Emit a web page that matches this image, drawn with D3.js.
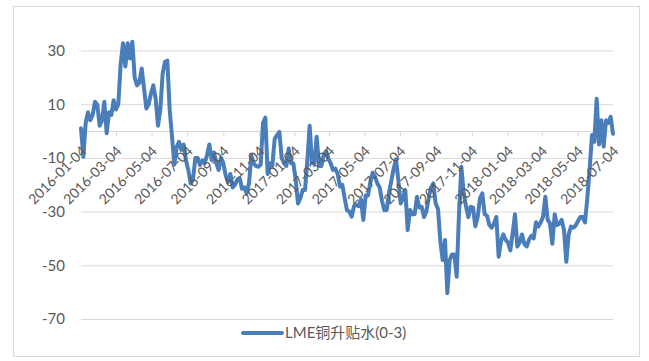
<!DOCTYPE html>
<html>
<head>
<meta charset="utf-8">
<script src="https://cdn.jsdelivr.net/npm/d3@7"></script>
<style>
  html, body { margin: 0; padding: 0; background: #fff; }
  svg { display: block; }
  text { font-family: Lato, "Noto Sans CJK SC", "Liberation Sans", sans-serif; fill: #595959; }
</style>
</head>
<body>
<svg id="chart" width="649" height="361"></svg>
<script>
// LME copper cash-to-3M spread, sampled every 4 calendar days from 2016-01-04
const seriesName = "LME铜升贴水(0-3)";
const startDate = "2016-01-04";
const stepDays = 4;
const spread = [
  1, -9.6, 3, 7, 4, 6, 10.9, 9.7, 2, 4,
  10.9, -0.8, 7, 6, 11.5, 8, 10, 25, 32.7, 24,
  32.7, 27, 33.3, 20, 17, 18, 23.3, 16, 8.4, 10,
  14, 17, 12, 2, 8, 21.5, 25.8, 26.2, 8, -2,
  -12.5, -6, -4, -7, -5, -11, -14.5, -19.5, -18, -10,
  -10, -12.7, -11, -12, -9, -5, -10.8, -8, -12, -14.5,
  -10, -12, -16.5, -19, -16, -21, -20, -18, -17.5, -21.5,
  -21, -23.2, -19.5, -9, -12, -13, -13.3, -12.5, 3, 5,
  -16, -12, -13, -3, -1.5, -0.3, -10, -12, -13, -6.5,
  -12, -12, -18, -27, -25, -22, -22, -11, 2, -12,
  -12, -2.1, -13, -13, -9, -7.5, -10.2, -12, -14.5, -14,
  -16, -20.7, -20, -25, -29.5, -30, -31.9, -28, -27.5, -28,
  -25.5, -33.1, -24, -24, -19, -15.5, -17, -19.5, -21, -26,
  -29.5, -29.4, -23, -18.5, -14, -10.5, -18.2, -27, -25, -22,
  -36.9, -29.4, -31, -31, -24.5, -28.5, -28.2, -32, -30, -25,
  -21, -19.5, -27, -29, -41, -48, -40.6, -60.4, -48, -46,
  -46, -54.3, -30.7, -13.3, -23, -28, -32, -28.2, -28.5, -35.5,
  -32, -25, -23.2, -31, -31.5, -35, -36, -34.4, -32, -46.8,
  -41, -38.5, -40.6, -41.5, -44.5, -38, -31, -43, -41.5, -38.5,
  -42, -43, -40.5, -39, -40, -34, -35.6, -34, -32, -24.5,
  -33, -34.4, -42, -31, -35, -34.5, -33.1, -37, -48.7, -38.5,
  -35.6, -36, -35.2, -33.5, -32, -32, -34, -25, -14, -1.5,
  -4, 12, -5, 4, -5.8, 4, 3, 5.3, -1
];
const yTicks = [-70, -50, -30, -10, 10, 30];
const xTickLabels = [
  "2016-01-04", "2016-03-04", "2016-05-04", "2016-07-04",
  "2016-09-04", "2016-11-04", "2017-01-04", "2017-03-04",
  "2017-05-04", "2017-07-04", "2017-09-04", "2017-11-04",
  "2018-01-04", "2018-03-04", "2018-05-04", "2018-07-04"
];

const parse = d3.timeParse("%Y-%m-%d");
const t0 = parse(startDate);
const points = spread.map((v, i) => ({ date: d3.timeDay.offset(t0, i * stepDays), value: v }));
const tickDates = xTickLabels.map(parse);

const svg = d3.select("#chart");
const plot = { left: 81, right: 613, top: 23.65, bottom: 319 };

// chart frame
svg.append("rect")
  .attr("x", 13.5).attr("y", 6.5)
  .attr("width", 626).attr("height", 350)
  .attr("fill", "#fff").attr("stroke", "#d9d9d9").attr("stroke-width", 1);

const x = d3.scaleTime()
  .domain([tickDates[0], tickDates[tickDates.length - 1]])
  .range([plot.left, plot.right]);
const y = d3.scaleLinear().domain([-70, 40]).range([plot.bottom, plot.top]);

// horizontal gridlines with value labels
const yAxis = d3.axisLeft(y)
  .tickValues(yTicks)
  .tickSize(-(plot.right - plot.left))
  .tickPadding(16)
  .tickFormat(d => String(d));
const gy = svg.append("g").attr("transform", `translate(${plot.left},0)`).call(yAxis);
gy.select(".domain").remove();
gy.selectAll(".tick line").attr("stroke", "#d9d9d9").attr("stroke-width", 1);
gy.selectAll(".tick text").attr("font-size", 15).style("fill", "#595959")
  .attr("font-family", "Lato, 'Liberation Sans', sans-serif");

// category axis crossing at zero
const y0 = Math.round(y(0)) + 0.5;
const xAxis = d3.axisBottom(x).tickValues(tickDates).tickSize(5).tickFormat(() => "");
const gx = svg.append("g").attr("transform", `translate(0,${y0})`).call(xAxis);
gx.select(".domain").attr("stroke", "#d9d9d9").attr("d", `M${plot.left},0H${plot.right}`);
gx.selectAll(".tick line").attr("stroke", "#d9d9d9");

// spread line
const line = d3.line().x(d => x(d.date)).y(d => y(d.value));
svg.append("path")
  .datum(points)
  .attr("fill", "none")
  .attr("stroke", "#4a7ebb")
  .attr("stroke-width", 4)
  .attr("stroke-linejoin", "round")
  .attr("stroke-linecap", "round")
  .attr("d", line);

// rotated date labels drawn over the line
svg.append("g").selectAll("text")
  .data(tickDates)
  .join("text")
  .attr("transform", d => `translate(${x(d) + 3},${y0 + 17}) rotate(-45)`)
  .attr("text-anchor", "end")
  .attr("dy", "0.35em")
  .attr("font-size", 14)
  .text((d, i) => xTickLabels[i]);

// legend
const legend = svg.append("g").attr("transform", "translate(243,333)");
legend.append("line")
  .attr("x1", 0).attr("x2", 39).attr("y1", 0).attr("y2", 0)
  .attr("stroke", "#4a7ebb").attr("stroke-width", 4).attr("stroke-linecap", "round");
legend.append("text")
  .attr("x", 42).attr("y", 0).attr("dy", "0.35em")
  .attr("font-size", 15)
  .text(seriesName);
</script>
</body>
</html>
